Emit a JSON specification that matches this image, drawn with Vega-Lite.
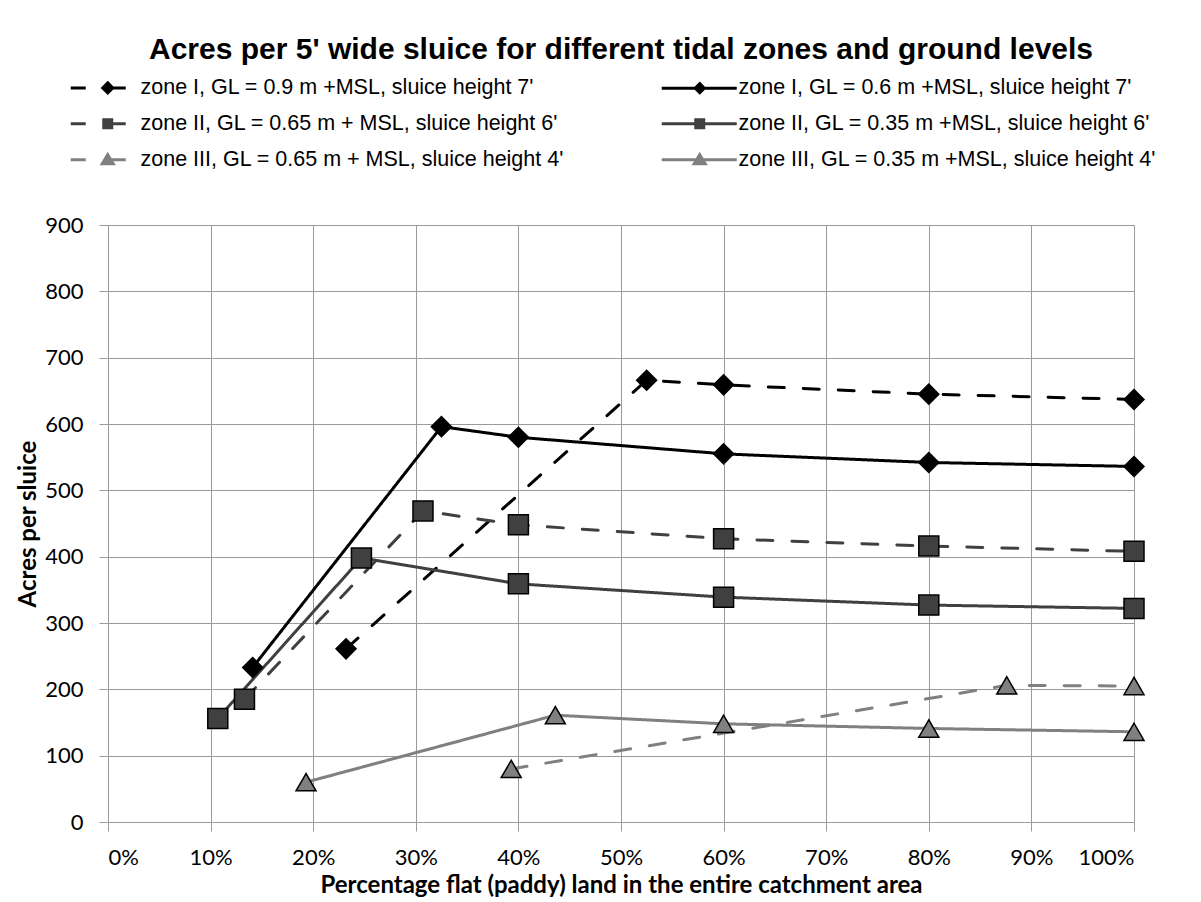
{
  "$schema": "https://vega.github.io/schema/vega-lite/v6.json",
  "width": 1026,
  "height": 597,
  "autosize": {"type": "none"},
  "padding": {"left": 108, "top": 225, "right": 67, "bottom": 80},
  "background": "white",
  "title": {
    "text": "Acres per 5' wide sluice for different tidal zones and ground levels",
    "font": "Liberation Sans",
    "fontSize": 30,
    "fontWeight": "bold",
    "color": "#000000",
    "anchor": "middle",
    "frame": "group",
    "offset": 12
  },
  "data": {
    "values": [
      {"series": "zone I, GL = 0.9 m +MSL, sluice height 7'", "x": 0.232, "y": 261},
      {"series": "zone I, GL = 0.9 m +MSL, sluice height 7'", "x": 0.525, "y": 666},
      {"series": "zone I, GL = 0.9 m +MSL, sluice height 7'", "x": 0.60, "y": 659},
      {"series": "zone I, GL = 0.9 m +MSL, sluice height 7'", "x": 0.80, "y": 645},
      {"series": "zone I, GL = 0.9 m +MSL, sluice height 7'", "x": 1.00, "y": 637},
      {"series": "zone I, GL = 0.6 m +MSL, sluice height 7'", "x": 0.141, "y": 233},
      {"series": "zone I, GL = 0.6 m +MSL, sluice height 7'", "x": 0.325, "y": 596},
      {"series": "zone I, GL = 0.6 m +MSL, sluice height 7'", "x": 0.40, "y": 580},
      {"series": "zone I, GL = 0.6 m +MSL, sluice height 7'", "x": 0.60, "y": 555},
      {"series": "zone I, GL = 0.6 m +MSL, sluice height 7'", "x": 0.80, "y": 542},
      {"series": "zone I, GL = 0.6 m +MSL, sluice height 7'", "x": 1.00, "y": 536},
      {"series": "zone II, GL = 0.65 m + MSL, sluice height 6'", "x": 0.133, "y": 185},
      {"series": "zone II, GL = 0.65 m + MSL, sluice height 6'", "x": 0.307, "y": 469},
      {"series": "zone II, GL = 0.65 m + MSL, sluice height 6'", "x": 0.40, "y": 448},
      {"series": "zone II, GL = 0.65 m + MSL, sluice height 6'", "x": 0.60, "y": 427},
      {"series": "zone II, GL = 0.65 m + MSL, sluice height 6'", "x": 0.80, "y": 416},
      {"series": "zone II, GL = 0.65 m + MSL, sluice height 6'", "x": 1.00, "y": 408},
      {"series": "zone II, GL = 0.35 m +MSL, sluice height 6'", "x": 0.107, "y": 156},
      {"series": "zone II, GL = 0.35 m +MSL, sluice height 6'", "x": 0.247, "y": 398},
      {"series": "zone II, GL = 0.35 m +MSL, sluice height 6'", "x": 0.40, "y": 359},
      {"series": "zone II, GL = 0.35 m +MSL, sluice height 6'", "x": 0.60, "y": 339},
      {"series": "zone II, GL = 0.35 m +MSL, sluice height 6'", "x": 0.80, "y": 327},
      {"series": "zone II, GL = 0.35 m +MSL, sluice height 6'", "x": 1.00, "y": 322},
      {"series": "zone III, GL = 0.65 m + MSL, sluice height 4'", "x": 0.393, "y": 80},
      {"series": "zone III, GL = 0.65 m + MSL, sluice height 4'", "x": 0.876, "y": 206},
      {"series": "zone III, GL = 0.65 m + MSL, sluice height 4'", "x": 1.00, "y": 205},
      {"series": "zone III, GL = 0.35 m +MSL, sluice height 4'", "x": 0.193, "y": 60},
      {"series": "zone III, GL = 0.35 m +MSL, sluice height 4'", "x": 0.436, "y": 161},
      {"series": "zone III, GL = 0.35 m +MSL, sluice height 4'", "x": 0.60, "y": 148},
      {"series": "zone III, GL = 0.35 m +MSL, sluice height 4'", "x": 0.80, "y": 141},
      {"series": "zone III, GL = 0.35 m +MSL, sluice height 4'", "x": 1.00, "y": 136}
    ]
  },
  "encoding": {
    "x": {
      "field": "x",
      "type": "quantitative",
      "scale": {"domain": [0, 1], "nice": false},
      "axis": {
        "title": "Percentage flat (paddy) land in the entire catchment area",
        "values": [0, 0.1, 0.2, 0.3, 0.4, 0.5, 0.6, 0.7, 0.8, 0.9, 1],
        "format": ".0%",
        "labelPadding": 16,
        "titlePadding": 5
      }
    },
    "y": {
      "field": "y",
      "type": "quantitative",
      "scale": {"domain": [0, 900], "nice": false},
      "axis": {
        "title": "Acres per sluice",
        "values": [0, 100, 200, 300, 400, 500, 600, 700, 800, 900],
        "labelPadding": 16,
        "titlePadding": 4
      }
    }
  },
  "layer": [
    {
      "mark": {"type": "line", "strokeWidth": 3, "strokeCap": "round"},
      "encoding": {
        "stroke": {
          "field": "series",
          "type": "nominal",
          "scale": {"range": ["#000000", "#000000", "#404040", "#404040", "#808080", "#808080"]},
          "legend": null
        },
        "strokeDash": {
          "field": "series",
          "type": "nominal",
          "scale": {"range": [[1, 0], [16, 19], [1, 0], [16, 19], [1, 0], [16, 19]]},
          "legend": null
        }
      }
    },
    {
      "transform": [{"filter": {"field": "series", "oneOf": ["zone I, GL = 0.9 m +MSL, sluice height 7'", "zone I, GL = 0.6 m +MSL, sluice height 7'"]}}],
      "mark": {"type": "point", "shape": "diamond", "filled": true, "stroke": "#000000", "strokeWidth": 1.5, "opacity": 1, "size": 400},
      "encoding": {
        "fill": {
          "field": "series",
          "type": "nominal",
          "scale": {"range": ["#000000", "#000000", "#404040", "#404040", "#808080", "#808080"]},
          "legend": null
        }
      }
    },
    {
      "transform": [{"filter": {"field": "series", "oneOf": ["zone II, GL = 0.65 m + MSL, sluice height 6'", "zone II, GL = 0.35 m +MSL, sluice height 6'"]}}],
      "mark": {"type": "point", "shape": "square", "filled": true, "stroke": "#000000", "strokeWidth": 1.5, "opacity": 1, "size": 400},
      "encoding": {
        "fill": {"field": "series", "type": "nominal", "legend": null}
      }
    },
    {
      "transform": [{"filter": {"field": "series", "oneOf": ["zone III, GL = 0.65 m + MSL, sluice height 4'", "zone III, GL = 0.35 m +MSL, sluice height 4'"]}}],
      "mark": {"type": "point", "shape": "triangle-up", "filled": true, "stroke": "#000000", "strokeWidth": 1.5, "opacity": 1, "size": 400},
      "encoding": {
        "fill": {"field": "series", "type": "nominal", "legend": null}
      }
    },
    {
      "transform": [{"filter": "datum.y < 0"}],
      "mark": {"type": "point", "filled": false, "strokeWidth": 3, "opacity": 1},
      "encoding": {
        "color": {
          "field": "series",
          "type": "nominal",
          "scale": {
            "domain": [
              "zone I, GL = 0.9 m +MSL, sluice height 7'",
              "zone I, GL = 0.6 m +MSL, sluice height 7'",
              "zone II, GL = 0.65 m + MSL, sluice height 6'",
              "zone II, GL = 0.35 m +MSL, sluice height 6'",
              "zone III, GL = 0.65 m + MSL, sluice height 4'",
              "zone III, GL = 0.35 m +MSL, sluice height 4'"
            ],
            "range": ["#000000", "#000000", "#404040", "#404040", "#808080", "#808080"]
          },
          "legend": {
            "title": null, "orient": "none", "legendX": -48, "legendY": -148,
            "direction": "horizontal", "columns": 2, "columnPadding": 90, "rowPadding": 13,
            "symbolSize": 100, "symbolStrokeWidth": 3, "symbolOpacity": 1,
            "labelFont": "Liberation Sans", "labelFontSize": 21.5, "labelColor": "#000000",
            "labelOffset": 59, "labelLimit": 0
          }
        },
        "shape": {
          "field": "series",
          "type": "nominal",
          "scale": {
            "domain": [
              "zone I, GL = 0.9 m +MSL, sluice height 7'",
              "zone I, GL = 0.6 m +MSL, sluice height 7'",
              "zone II, GL = 0.65 m + MSL, sluice height 6'",
              "zone II, GL = 0.35 m +MSL, sluice height 6'",
              "zone III, GL = 0.65 m + MSL, sluice height 4'",
              "zone III, GL = 0.35 m +MSL, sluice height 4'"
            ],
            "range": [
              "M0,0H3M8.4,0H11M7.4,-1L8.4,0L7.4,1L6.4,0ZM7.4,-0.5L7.9,0L7.4,0.5L6.9,0ZM7.4,-0.1L7.5,0L7.4,0.1L7.3,0Z",
              "M-1.4,0H5.3M7.1,0H13.6M6.2,-0.9L7.1,0L6.2,0.9L5.3,0ZM6.2,-0.45L6.65,0L6.2,0.45L5.75,0ZM6.2,-0.1L6.3,0L6.2,0.1L6.1,0Z",
              "M0,0H3M8.2,0H11M6.6,-0.8H8.2V0.8H6.6ZM7.1,-0.3H7.7V0.3H7.1Z",
              "M-1.4,0H5.4M7,0H13.6M5.4,-0.8H7V0.8H5.4ZM5.9,-0.3H6.5V0.3H5.9Z",
              "M0,0H3M8,0H11M7.4,-1L8.5,0.8L6.3,0.8ZM7.4,-0.4L7.85,0.35L6.95,0.35Z",
              "M-1.4,0H5.6M6.8,0H13.6M6.2,-1L7.3,0.8L5.1,0.8ZM6.2,-0.4L6.65,0.35L5.75,0.35Z"
            ]
          },
          "legend": {
            "title": null, "orient": "none", "legendX": -48, "legendY": -148,
            "direction": "horizontal", "columns": 2, "columnPadding": 90, "rowPadding": 13,
            "symbolSize": 100, "symbolStrokeWidth": 3, "symbolOpacity": 1,
            "labelFont": "Liberation Sans", "labelFontSize": 21.5, "labelColor": "#000000",
            "labelOffset": 59, "labelLimit": 0
          }
        }
      }
    }
  ],
  "config": {
    "view": {"stroke": null},
    "axis": {
      "gridColor": "#9a9a9a",
      "gridWidth": 1,
      "gridOpacity": 1,
      "domainColor": "#9a9a9a",
      "domainWidth": 1,
      "tickColor": "#9a9a9a",
      "tickSize": 9,
      "labelFont": "Lato",
      "labelFontSize": 22,
      "labelColor": "#000000",
      "titleFont": "Lato",
      "titleFontSize": 24,
      "titleFontWeight": "bold",
      "titleColor": "#000000"
    }
  }
}
